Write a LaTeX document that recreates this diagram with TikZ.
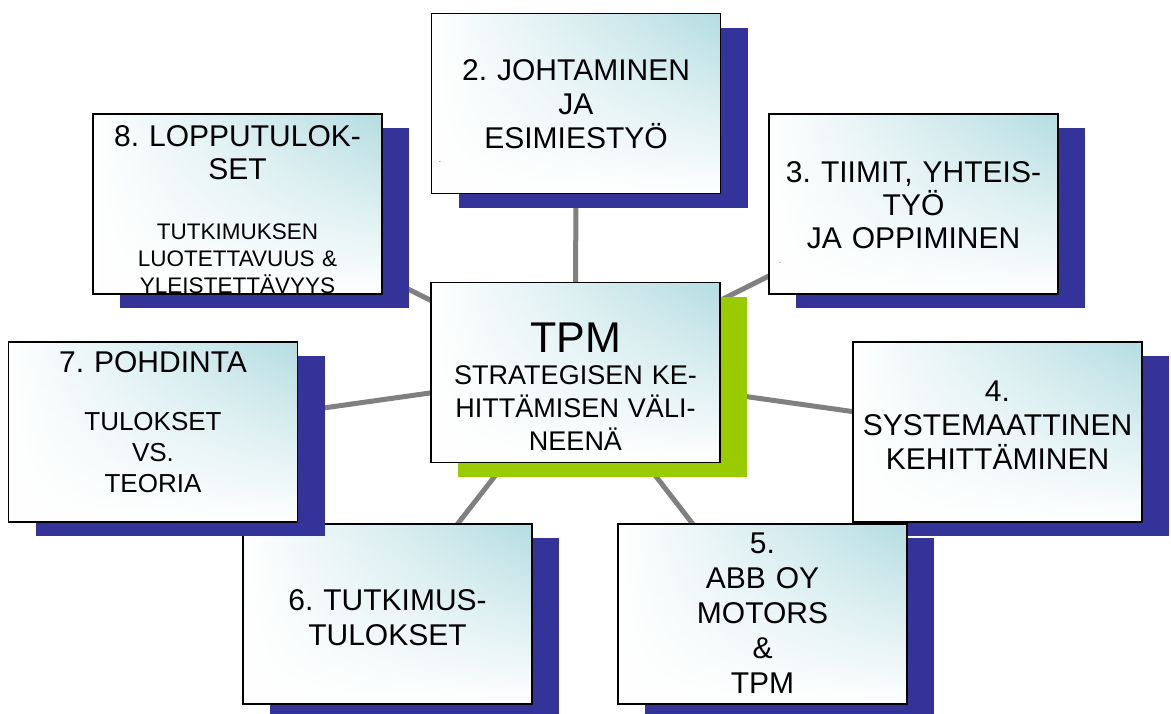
\documentclass[tikz,border=0pt]{standalone}
\usepackage{fontspec}
\setmainfont{Liberation Sans}
\usetikzlibrary{shadows,fadings,backgrounds}
\frenchspacing

\definecolor{navyshadow}{RGB}{51,51,153}
\definecolor{limeshadow}{RGB}{153,204,0}
\definecolor{panelteal}{RGB}{180,221,226}
\definecolor{linkgray}{RGB}{128,128,128}

\tikzset{
  panel/.style={draw=black, line width=1.8pt,
    minimum width=289pt, minimum height=180pt, inner sep=0pt, outer sep=0pt,
    general shadow={fill=#1, shadow xshift=27pt, shadow yshift=-14pt},
    preaction={left color=white, right color=panelteal},
    preaction={fill=white, path fading=north}},
  panel/.default=navyshadow,
  caption/.style={text width=289pt, align=center, inner sep=0pt, anchor=base,
    font=\fontsize{30}{34}\selectfont},
  tick/.style={inner sep=0pt, font=\fontsize{5}{6}\selectfont},
  link/.style={draw=linkgray, line width=5pt}
}

\begin{document}
\begin{tikzpicture}[x=1pt, y=-1pt]
\useasboundingbox (0,0) rectangle (1171,713);

% panels, in stacking order
\node[panel] (b2) at (576,103.5) {};
\node[caption] (t2) at (576,80) {2. JOHTAMINEN\\JA\\ESIMIESTYÖ};
\node[tick] (d2) at (440,163) {-};

\node[panel] (b3) at (913.5,204) {};
\node[caption, font=\fontsize{30}{33}\selectfont] (t3) at (913.5,182) {3. TIIMIT, YHTEIS-\\TYÖ\\JA OPPIMINEN};
\node[tick] (d3) at (780,264) {-};

\node[panel] (b8) at (237.5,204) {};
\node[caption, font=\fontsize{30}{33}\selectfont] (t8) at (237.5,146) {8. LOPPUTULOK-\\SET};
\node[caption, font=\fontsize{22.5}{27}\selectfont] (s8) at (237.5,239) {TUTKIMUKSEN\\LUOTETTAVUUS \&\\YLEISTETTÄVYYS};

\node[panel=limeshadow] (bc) at (575.5,372.5) {};
\node[caption, font=\fontsize{43}{45}\selectfont] (tc) at (575.5,352) {TPM};
\node[caption, font=\fontsize{27}{33}\selectfont] (sc) at (575.5,384) {STRATEGISEN KE-\\HITTÄMISEN VÄLI-\\NEENÄ};

\node[panel] (b6) at (387.5,614) {};
\node[caption, font=\fontsize{30}{35}\selectfont] (t6) at (387.5,610) {6. TUTKIMUS-\\TULOKSET};

\node[panel] (b7) at (153,432) {};
\node[caption] (t7) at (153,372) {7. POHDINTA};
\node[caption, font=\fontsize{26}{31}\selectfont] (s7) at (153,430) {TULOKSET\\VS.\\TEORIA};

\node[panel] (b4) at (997.5,432) {};
\node[caption] (t4) at (997.5,401) {4.\\SYSTEMAATTINEN\\KEHITTÄMINEN};

\node[panel] (b5) at (762.5,614) {};
\node[caption, font=\fontsize{30}{35}\selectfont] (t5) at (762.5,553) {5.\\ABB OY\\MOTORS\\\&\\TPM};

% spokes from the hub to every panel
\begin{scope}[on background layer]
  \foreach \n in {b2,b3,b4,b5,b6,b7,b8}
    \draw[link] (bc.center) -- (\n.center);
\end{scope}
\end{tikzpicture}
\end{document}
